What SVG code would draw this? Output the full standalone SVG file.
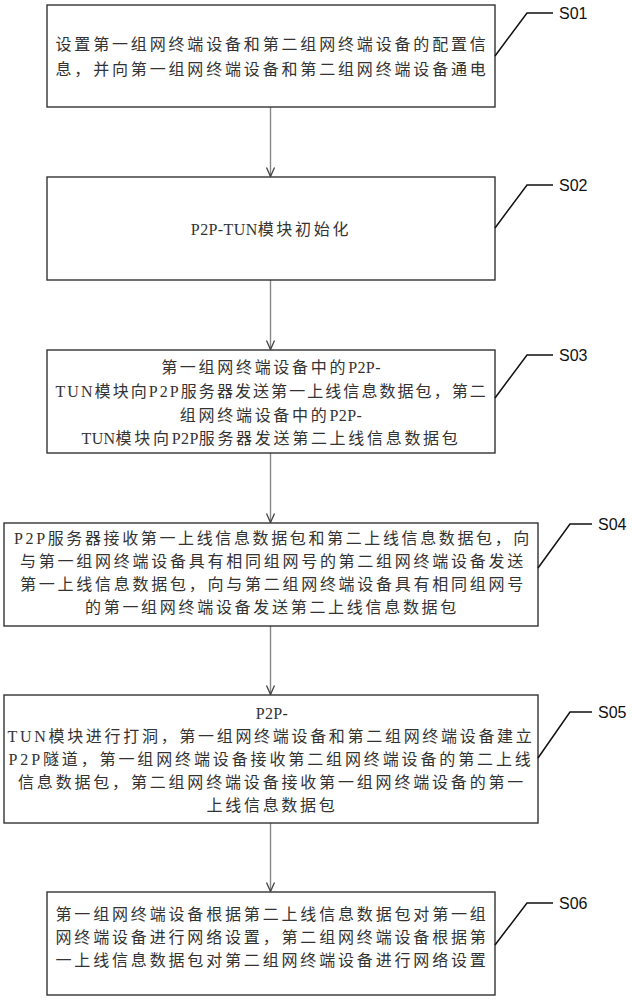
<svg xmlns="http://www.w3.org/2000/svg" width="632" height="1000" viewBox="0 0 632 1000">
<style>
.box{fill:#fff;stroke:#333;stroke-width:1.4}
.t{font-family:"Liberation Serif","Noto Sans CJK SC",serif;font-size:16px;fill:#333;text-anchor:middle;dominant-baseline:central;letter-spacing:2.7px}
.l{letter-spacing:0.4px}
.lbl{font-family:"Liberation Sans","Noto Sans",sans-serif;font-size:16px;fill:#111;dominant-baseline:central}
.lead{fill:none;stroke:#111;stroke-width:1.5}
.con{stroke:#888;stroke-width:1.4;fill:none;marker-end:url(#arr)}
</style>
<defs>
<marker id="arr" markerUnits="userSpaceOnUse" markerWidth="12" markerHeight="12" viewBox="-11 -6 12 12" refX="0" refY="0" orient="auto">
<path d="M-9,-4 L0,0 L-9,4" fill="none" stroke="#444" stroke-width="1.3"/>
</marker>
</defs>
<rect width="632" height="1000" fill="#fff"/>
<g id="connectors">
<line class="con" x1="270.5" y1="107" x2="270.5" y2="176.5"/>
<line class="con" x1="270.5" y1="280" x2="270.5" y2="349.5"/>
<line class="con" x1="270.5" y1="453" x2="270.5" y2="522.5"/>
<line class="con" x1="270.5" y1="626" x2="270.5" y2="694.5"/>
<line class="con" x1="270.5" y1="823" x2="270.5" y2="891.5"/>
</g>
<g id="S01">
<rect class="box" x="47" y="5" width="448" height="102"/>
<text class="t" x="272" y="44" textLength="433" lengthAdjust="spacing">设置第一组网终端设备和第二组网终端设备的配置信</text>
<text class="t" x="272" y="69" textLength="433" lengthAdjust="spacing">息，并向第一组网终端设备和第二组网终端设备通电</text>
<polyline class="lead" points="495,56 527,13 553,13"/>
<text class="lbl" x="559" y="13">S01</text>
</g>
<g id="S02">
<rect class="box" x="47" y="177" width="448" height="103"/>
<text class="t" x="271" y="229"><tspan class="l">P2P-TUN</tspan>模块初始化</text>
<polyline class="lead" points="495,228 527,185 553,185"/>
<text class="lbl" x="559" y="185">S02</text>
</g>
<g id="S03">
<rect class="box" x="47" y="350" width="448" height="103"/>
<text class="t" x="271" y="367">第一组网终端设备中的<tspan class="l">P2P-</tspan></text>
<text class="t" x="272" y="391" textLength="433" lengthAdjust="spacing">TUN模块向P2P服务器发送第一上线信息数据包，第二</text>
<text class="t" x="271" y="415">组网终端设备中的<tspan class="l">P2P-</tspan></text>
<text class="t" x="271" y="438"><tspan class="l">TUN</tspan>模块向<tspan class="l">P2P</tspan>服务器发送第二上线信息数据包</text>
<polyline class="lead" points="495,398 527,355 553,355"/>
<text class="lbl" x="559" y="355">S03</text>
</g>
<g id="S04">
<rect class="box" x="4" y="523" width="534" height="103"/>
<text class="t" x="273" y="538" textLength="518" lengthAdjust="spacing">P2P服务器接收第一上线信息数据包和第二上线信息数据包，向</text>
<text class="t" x="273" y="561" textLength="506" lengthAdjust="spacing">与第一组网终端设备具有相同组网号的第二组网终端设备发送</text>
<text class="t" x="273" y="584" textLength="506" lengthAdjust="spacing">第一上线信息数据包，向与第二组网终端设备具有相同组网号</text>
<text class="t" x="272" y="607">的第一组网终端设备发送第二上线信息数据包</text>
<polyline class="lead" points="538,568 570,524 592,524"/>
<text class="lbl" x="598" y="524">S04</text>
</g>
<g id="S05">
<rect class="box" x="4" y="695" width="534" height="128"/>
<text class="t" x="272" y="713"><tspan class="l">P2P-</tspan></text>
<text class="t" x="271" y="736" textLength="527" lengthAdjust="spacing">TUN模块进行打洞，第一组网终端设备和第二组网终端设备建立</text>
<text class="t" x="271" y="759" textLength="525" lengthAdjust="spacing">P2P隧道，第一组网终端设备接收第二组网终端设备的第二上线</text>
<text class="t" x="272" y="782" textLength="508" lengthAdjust="spacing">信息数据包，第二组网终端设备接收第一组网终端设备的第一</text>
<text class="t" x="272" y="805">上线信息数据包</text>
<polyline class="lead" points="538,758 570,712 592,712"/>
<text class="lbl" x="598" y="712">S05</text>
</g>
<g id="S06">
<rect class="box" x="47" y="892" width="448" height="103"/>
<text class="t" x="272" y="914" textLength="433" lengthAdjust="spacing">第一组网终端设备根据第二上线信息数据包对第一组</text>
<text class="t" x="272" y="937" textLength="433" lengthAdjust="spacing">网终端设备进行网络设置，第二组网终端设备根据第</text>
<text class="t" x="272" y="960" textLength="433" lengthAdjust="spacing">一上线信息数据包对第二组网终端设备进行网络设置</text>
<polyline class="lead" points="495,945 527,903 553,903"/>
<text class="lbl" x="559" y="903">S06</text>
</g>
</svg>
